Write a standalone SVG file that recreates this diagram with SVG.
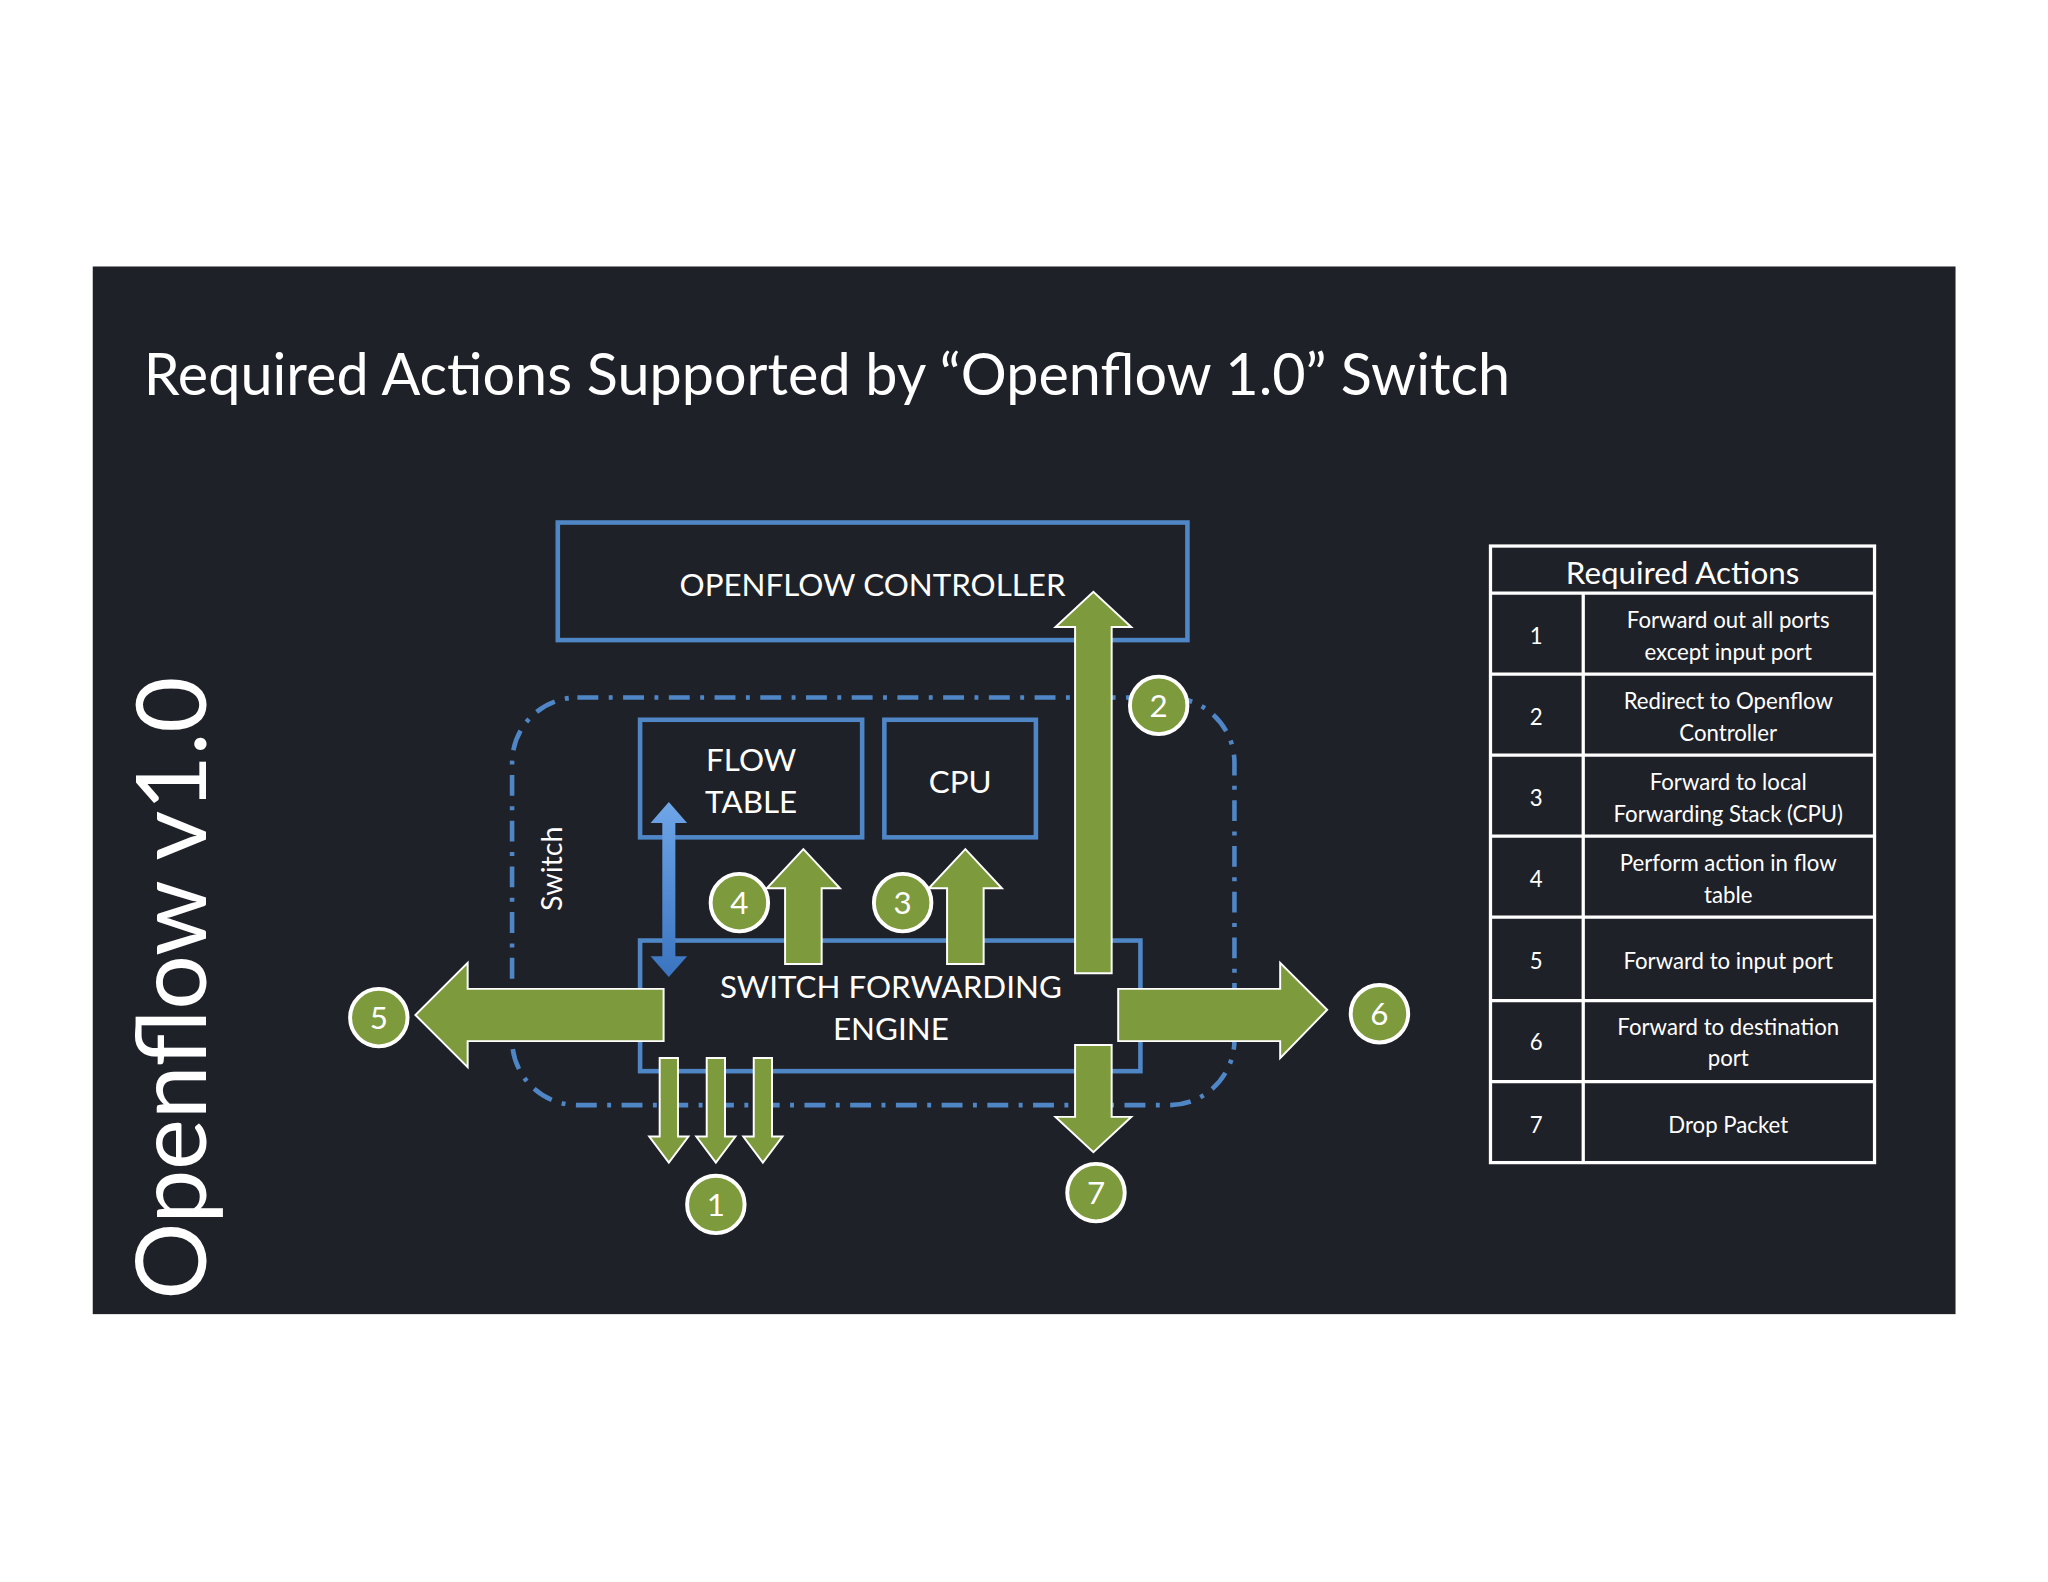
<svg xmlns="http://www.w3.org/2000/svg" width="2048" height="1582" viewBox="0 0 2048 1582">
<style>
text{font-family:Lato,"Open Sans",sans-serif;fill:#fff}
.blue{fill:none;stroke:#4f86c6;stroke-width:3.5}
.arr{fill:#7d9a3c;stroke:#fff;stroke-width:1.5}
.num circle{fill:#7d9a3c;stroke:#fff;stroke-width:3}
.num text{font-size:24px;text-anchor:middle}
.tb{fill:none;stroke:#fff;stroke-width:2.5}
.t{font-size:17px;text-anchor:middle}
</style>
<defs>
<linearGradient id="bg" x1="0" y1="0" x2="0" y2="1"><stop offset="0" stop-color="#6fa6e8"/><stop offset="1" stop-color="#3a74c0"/></linearGradient>
</defs>
<rect width="2048" height="1582" fill="#fff"/>
<g transform="scale(1.3063)">
<rect x="71" y="204" width="1426" height="802" fill="#1f2128"/>
<text x="110" y="302" font-size="44" textLength="1046">Required Actions Supported by “Openflow 1.0” Switch</text>
<text transform="translate(158,995) rotate(-90)" font-size="74" textLength="477">Openflow v1.0</text>
<g id="controller"><rect class="blue" x="427" y="400" width="482" height="90"/><text x="668" y="456" font-size="24" text-anchor="middle">OPENFLOW CONTROLLER</text></g>
<g id="switch"><rect x="392" y="534" width="553" height="312" rx="50" fill="none" stroke="#4f86c6" stroke-width="3.5" stroke-dasharray="16 8 3 8"/><text transform="translate(430,665) rotate(-90)" font-size="22" text-anchor="middle">Switch</text></g>
<g id="flowtable"><rect class="blue" x="490" y="551" width="170" height="90"/><text x="575" y="590" font-size="24" text-anchor="middle">FLOW</text><text x="575" y="622" font-size="24" text-anchor="middle">TABLE</text></g>
<g id="cpu"><rect class="blue" x="677" y="551" width="116" height="90"/><text x="735" y="607" font-size="24" text-anchor="middle">CPU</text></g>
<g id="engine"><rect class="blue" x="490" y="720" width="383" height="100"/><text x="682" y="764" font-size="24" text-anchor="middle">SWITCH FORWARDING</text><text x="682" y="796" font-size="24" text-anchor="middle">ENGINE</text></g>
<g id="connectors">
<path d="M512 614 L526 630 L517 630 L517 732 L526 732 L512 748 L498 732 L507 732 L507 630 L498 630 Z" fill="url(#bg)"/>
<path class="arr" d="M823 745 V480 H808 L837 453 L866 480 H851 V745 Z"/>
<path class="arr" d="M601 738 V680 H587 L615 650 L643 680 H629 V738 Z"/>
<path class="arr" d="M725 738 V680 H711 L739 650 L767 680 H753 V738 Z"/>
<path class="arr" d="M508 757 H358 V737 L318 777 L358 817 V797 H508 Z"/>
<path class="arr" d="M856 757 H980 V737 L1016 773 L980 810 V797 H856 Z"/>
<path class="arr" d="M823 800 V855 H808 L837 882 L866 855 H851 V800 Z"/>
<path class="arr" d="M505 810 V870 H497 L512 890 L527 870 H519 V810 Z"/>
<path class="arr" d="M541 810 V870 H533 L548 890 L563 870 H555 V810 Z"/>
<path class="arr" d="M577 810 V870 H569 L584 890 L599 870 H591 V810 Z"/>
</g>
<g class="num" id="n1"><circle cx="548" cy="922" r="22"/><text x="548" y="931">1</text></g>
<g class="num" id="n2"><circle cx="887" cy="540" r="22"/><text x="887" y="549">2</text></g>
<g class="num" id="n3"><circle cx="691" cy="691" r="22"/><text x="691" y="700">3</text></g>
<g class="num" id="n4"><circle cx="566" cy="691" r="22"/><text x="566" y="700">4</text></g>
<g class="num" id="n5"><circle cx="290" cy="779" r="22"/><text x="290" y="788">5</text></g>
<g class="num" id="n6"><circle cx="1056" cy="776" r="22"/><text x="1056" y="785">6</text></g>
<g class="num" id="n7"><circle cx="839" cy="913" r="22"/><text x="839" y="922">7</text></g>
<g id="table">
<rect class="tb" x="1141" y="418" width="294" height="472"/>
<path class="tb" d="M1141 454 H1435 M1141 516 H1435 M1141 578 H1435 M1141 640 H1435 M1141 702 H1435 M1141 766 H1435 M1141 828 H1435 M1212 454 V890"/>
<text x="1288" y="447" font-size="24" text-anchor="middle">Required Actions</text>
<g class="t">
<text x="1176" y="493" class="t">1</text><text x="1323" y="481" class="t">Forward out all ports</text><text x="1323" y="505" class="t">except input port</text>
<text x="1176" y="555" class="t">2</text><text x="1323" y="543" class="t">Redirect to Openflow</text><text x="1323" y="567" class="t">Controller</text>
<text x="1176" y="617" class="t">3</text><text x="1323" y="605" class="t">Forward to local</text><text x="1323" y="629" class="t">Forwarding Stack (CPU)</text>
<text x="1176" y="679" class="t">4</text><text x="1323" y="667" class="t">Perform action in flow</text><text x="1323" y="691" class="t">table</text>
<text x="1176" y="742" class="t">5</text><text x="1323" y="742" class="t">Forward to input port</text>
<text x="1176" y="804" class="t">6</text><text x="1323" y="792" class="t">Forward to destination</text><text x="1323" y="816" class="t">port</text>
<text x="1176" y="867" class="t">7</text><text x="1323" y="867" class="t">Drop Packet</text>
</g>
</g>
</g>
</svg>
